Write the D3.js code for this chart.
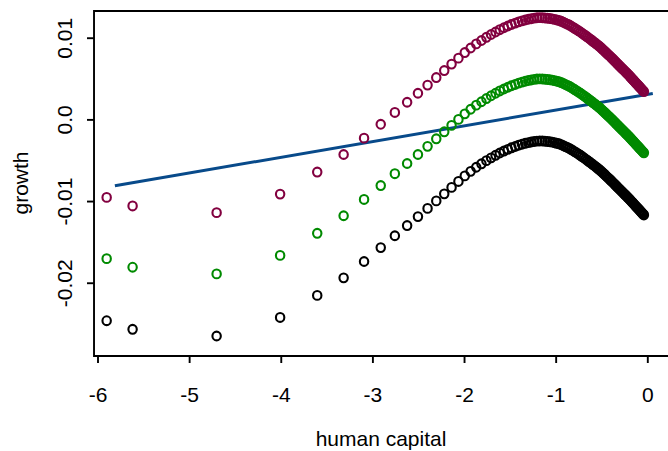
<!DOCTYPE html>
<html><head><meta charset="utf-8">
<script src="https://cdn.jsdelivr.net/npm/d3@7"></script>
<style>body{margin:0;background:#fff}svg{display:block}text{font-family:"Liberation Sans",Arial,sans-serif;fill:#000}</style>
</head><body><svg id="c" width="668" height="451"></svg>
<script>
const xTicks = [-6, -5, -4, -3, -2, -1, 0];
const yTicks = [-0.02, -0.01, 0.0, 0.01];
const yTickLabels = ["-0.02", "-0.01", "0.0", "0.01"];
const xLabel = "human capital";
const yLabel = "growth";

const xValues = [-5.900, -5.617, -4.700, -4.007, -3.602, -3.314, -3.091, -2.909, -2.755, -2.621, -2.503, -2.398, -2.303, -2.216, -2.136, -2.061, -1.992, -1.928, -1.867, -1.810, -1.756, -1.705, -1.656, -1.610, -1.565, -1.522, -1.482, -1.442, -1.405, -1.368, -1.333, -1.299, -1.267, -1.235, -1.204, -1.174, -1.145, -1.117, -1.090, -1.063, -1.037, -1.012, -0.987, -0.963, -0.939, -0.916, -0.894, -0.872, -0.850, -0.829, -0.809, -0.789, -0.769, -0.749, -0.730, -0.712, -0.693, -0.675, -0.657, -0.640, -0.623, -0.606, -0.590, -0.573, -0.557, -0.542, -0.526, -0.511, -0.496, -0.481, -0.466, -0.452, -0.438, -0.424, -0.410, -0.396, -0.383, -0.370, -0.357, -0.344, -0.331, -0.319, -0.306, -0.294, -0.282, -0.270, -0.258, -0.246, -0.235, -0.223, -0.212, -0.201, -0.190, -0.179, -0.168, -0.157, -0.147, -0.136, -0.126, -0.116, -0.105, -0.095, -0.085, -0.076, -0.066, -0.056, -0.047, -0.037];

const growthLow = [-0.02465, -0.02570, -0.02652, -0.02425, -0.02155, -0.01940, -0.01740, -0.01570, -0.01425, -0.01300, -0.01190, -0.01090, -0.00998, -0.00912, -0.00833, -0.00760, -0.00692, -0.00636, -0.00586, -0.00544, -0.00505, -0.00471, -0.00440, -0.00412, -0.00388, -0.00367, -0.00348, -0.00332, -0.00316, -0.00304, -0.00293, -0.00284, -0.00277, -0.00270, -0.00266, -0.00264, -0.00265, -0.00268, -0.00271, -0.00274, -0.00279, -0.00286, -0.00293, -0.00299, -0.00309, -0.00321, -0.00333, -0.00344, -0.00355, -0.00370, -0.00384, -0.00398, -0.00412, -0.00426, -0.00440, -0.00455, -0.00470, -0.00485, -0.00499, -0.00514, -0.00528, -0.00542, -0.00557, -0.00571, -0.00585, -0.00599, -0.00612, -0.00627, -0.00643, -0.00659, -0.00674, -0.00690, -0.00705, -0.00720, -0.00734, -0.00749, -0.00764, -0.00779, -0.00793, -0.00808, -0.00823, -0.00837, -0.00851, -0.00865, -0.00879, -0.00892, -0.00905, -0.00918, -0.00931, -0.00944, -0.00957, -0.00969, -0.00983, -0.00996, -0.01010, -0.01023, -0.01036, -0.01049, -0.01062, -0.01074, -0.01087, -0.01099, -0.01111, -0.01123, -0.01135, -0.01147, -0.01159, -0.01170];

const growthMid = [-0.01705, -0.01810, -0.01892, -0.01665, -0.01395, -0.01180, -0.00980, -0.00810, -0.00665, -0.00540, -0.00430, -0.00330, -0.00238, -0.00152, -0.00073, 0.00000, 0.00068, 0.00124, 0.00174, 0.00216, 0.00255, 0.00289, 0.00320, 0.00348, 0.00372, 0.00393, 0.00412, 0.00428, 0.00444, 0.00456, 0.00467, 0.00476, 0.00483, 0.00490, 0.00494, 0.00496, 0.00495, 0.00492, 0.00489, 0.00486, 0.00481, 0.00474, 0.00467, 0.00461, 0.00451, 0.00439, 0.00427, 0.00416, 0.00405, 0.00390, 0.00376, 0.00362, 0.00348, 0.00334, 0.00320, 0.00305, 0.00290, 0.00275, 0.00261, 0.00246, 0.00232, 0.00218, 0.00203, 0.00189, 0.00175, 0.00161, 0.00148, 0.00133, 0.00117, 0.00101, 0.00086, 0.00070, 0.00055, 0.00040, 0.00026, 0.00011, -0.00004, -0.00019, -0.00033, -0.00048, -0.00063, -0.00077, -0.00091, -0.00105, -0.00119, -0.00132, -0.00145, -0.00158, -0.00171, -0.00184, -0.00197, -0.00209, -0.00223, -0.00236, -0.00250, -0.00263, -0.00276, -0.00289, -0.00302, -0.00314, -0.00327, -0.00339, -0.00351, -0.00363, -0.00375, -0.00387, -0.00399, -0.00410];

const growthHigh = [-0.00955, -0.01060, -0.01142, -0.00915, -0.00645, -0.00430, -0.00230, -0.00060, 0.00085, 0.00210, 0.00320, 0.00420, 0.00512, 0.00598, 0.00677, 0.00750, 0.00818, 0.00874, 0.00924, 0.00966, 0.01005, 0.01039, 0.01070, 0.01098, 0.01122, 0.01143, 0.01162, 0.01178, 0.01194, 0.01206, 0.01217, 0.01226, 0.01233, 0.01240, 0.01244, 0.01246, 0.01245, 0.01242, 0.01239, 0.01236, 0.01231, 0.01224, 0.01217, 0.01211, 0.01201, 0.01189, 0.01177, 0.01166, 0.01155, 0.01140, 0.01126, 0.01112, 0.01098, 0.01084, 0.01070, 0.01055, 0.01040, 0.01025, 0.01011, 0.00996, 0.00982, 0.00968, 0.00953, 0.00939, 0.00925, 0.00911, 0.00898, 0.00883, 0.00867, 0.00851, 0.00836, 0.00820, 0.00805, 0.00790, 0.00776, 0.00761, 0.00746, 0.00731, 0.00717, 0.00702, 0.00687, 0.00673, 0.00659, 0.00645, 0.00631, 0.00618, 0.00605, 0.00592, 0.00579, 0.00566, 0.00553, 0.00541, 0.00527, 0.00514, 0.00500, 0.00487, 0.00474, 0.00461, 0.00448, 0.00436, 0.00423, 0.00411, 0.00399, 0.00387, 0.00375, 0.00363, 0.00351, 0.00340];

const lineX = [-5.81, 0.06];
const lineY = [-0.00813, 0.00318];

const seriesNames = ["low", "mid", "high"];
const seriesColors = ["#000000", "#008a00", "#82003f"];
const lineColor = "#084a8a";

const svg = d3.select("#c");
const W = 668, H = 451;
const x = d3.scaleLinear().domain([-6, 0]).range([97.5, 647.3]);
const y = d3.scaleLinear().domain([-0.02897, 0.01327]).range([356, 11]);

const boxL = x(-6.038), boxT = y(0.01327), boxB = y(-0.02897), boxR = W + 6;

const fs = 21;
const gx = svg.append("g").attr("transform", `translate(0,${boxB})`)
  .call(d3.axisBottom(x).tickValues(xTicks).tickSize(7).tickFormat(d => String(d)));
gx.select(".domain").remove();
gx.selectAll(".tick line").attr("stroke", "#000").attr("stroke-width", 1.9);
gx.selectAll(".tick text").attr("y", 0).attr("dy", 0)
  .attr("transform", "translate(0,46)")
  .style("font-size", fs + "px").style("font-family", "Liberation Sans, Arial, sans-serif");

const gy = svg.append("g").attr("transform", `translate(${boxL},0)`)
  .call(d3.axisLeft(y).tickValues(yTicks).tickSize(7).tickFormat((d, i) => yTickLabels[i]));
gy.select(".domain").remove();
gy.selectAll(".tick line").attr("stroke", "#000").attr("stroke-width", 1.9);
gy.selectAll(".tick text").attr("x", 0).attr("dy", 0).attr("text-anchor", "middle")
  .attr("transform", `translate(${72 - boxL},0) rotate(-90)`)
  .style("font-size", fs + "px").style("font-family", "Liberation Sans, Arial, sans-serif");

svg.append("text").attr("x", 381).attr("y", 445.5).attr("text-anchor", "middle")
  .style("font-size", fs + "px").text(xLabel);
svg.append("text").attr("transform", "translate(28,183) rotate(-90)").attr("text-anchor", "middle")
  .style("font-size", fs + "px").text(yLabel);

svg.append("path").datum(d3.zip(lineX, lineY))
  .attr("d", d3.line().x(d => x(d[0])).y(d => y(d[1])))
  .attr("fill", "none").attr("stroke", lineColor).attr("stroke-width", 3);

const allSeries = [growthLow, growthMid, growthHigh];
allSeries.forEach((vals, si) => {
  const n = Math.min(vals.length, xValues.length);
  const pts = d3.range(n).map(i => ({x: xValues[i], y: vals[i]}));
  svg.append("g").attr("class", "series-" + seriesNames[si])
    .selectAll("ellipse").data(pts).join("ellipse")
    .attr("cx", d => x(d.x)).attr("cy", d => y(d.y))
    .attr("rx", 4.2).attr("ry", 4.4)
    .attr("fill", "none").attr("stroke", seriesColors[si]).attr("stroke-width", 2.1);
});

svg.append("path")
  .attr("d", `M${boxR},${boxT}H${boxL}V${boxB}H${boxR}`)
  .attr("fill", "none").attr("stroke", "#000").attr("stroke-width", 1.9);
</script></body></html>
